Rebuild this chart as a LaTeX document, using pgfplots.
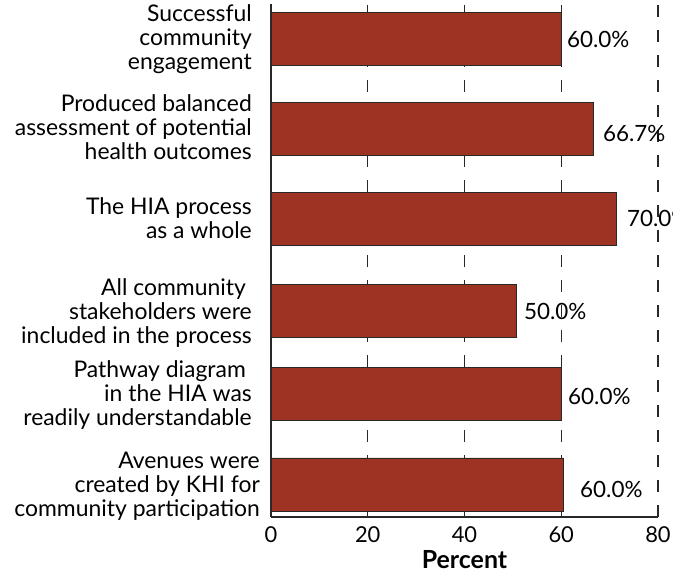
\documentclass[border=0pt]{standalone}
\usepackage{pgfplots}
\pgfplotsset{compat=1.18}
\usepackage{fontspec}
\setmainfont{Lato}
\usetikzlibrary{calc}
\definecolor{barred}{RGB}{158,50,35}
\definecolor{axgray}{RGB}{40,40,40}
\begin{document}
\begin{tikzpicture}
\begin{axis}[name=ax, scale only axis, width=387bp, height=513bp,
  xmin=0, xmax=80, ymin=-517, ymax=-4,
  axis x line=bottom, axis y line=left,
  axis line style={-, line width=2bp, draw=axgray},
  xtick={0,20,40,60,80}, ytick=\empty, major tick length=0pt,
  xmajorgrids, grid style={dash pattern=on 12bp off 13bp, line width=1.1bp, draw=axgray},
  /pgf/number format/assume math mode=true,
  xticklabel style={font=\fontsize{22}{26}\selectfont, anchor=base, yshift=-25bp},
  xlabel={Percent},
  xlabel style={font=\fontsize{25}{28}\selectfont\bfseries, at={(axis description cs:0.5,0)}, anchor=base, yshift=-51bp},
  clip=false]
\addplot[xbar, bar width=53, fill=barred, draw=axgray, line width=0.8bp]
  coordinates {(60,-39) (66.6,-129) (71.3,-219) (50.7,-311) (60,-394) (60.4,-484.5)};
\begin{scope}[every node/.style={anchor=west, font=\fontsize{22.5}{26}\selectfont, inner sep=0pt}]
\node at (axis cs:61.19,-39) {60.0\%};
\node at (axis cs:68.63,-133) {66.7\%};
\node at (axis cs:73.59,-218) {70.0\%};
\node at (axis cs:52.30,-311) {50.0\%};
\node at (axis cs:61.40,-396) {60.0\%};
\node at (axis cs:63.88,-489) {60.0\%};
\end{scope}
\begin{scope}[every node/.style={anchor=east, align=right, font=\fontsize{23}{24}\selectfont, inner sep=0pt}]
\node at (axis cs:-3.93,-39) {Successful\\community\\engagement};
\node at (axis cs:-3.93,-127) {Produced balanced\\assessment of potential\hspace*{10bp}\\health outcomes};
\node at (axis cs:-3.93,-218) {The HIA process\\as a whole};
\node at (axis cs:-3.93,-313) {All community\hspace*{6bp}\\stakeholders were\hspace*{6bp}\\included in the process};
\node at (axis cs:-3.93,-395) {Pathway diagram\hspace*{6bp}\\in the HIA was\hspace*{6bp}\\readily understandable};
\node at (axis cs:-2.27,-486) {Avenues were\\created by KHI for\hspace*{7bp}\\community participation};
\end{scope}
\end{axis}
\pgfresetboundingbox
\path[use as bounding box] ($(ax.south west)+(-271bp,-56bp)$) rectangle ++(673bp,573bp);
\end{tikzpicture}
\end{document}
